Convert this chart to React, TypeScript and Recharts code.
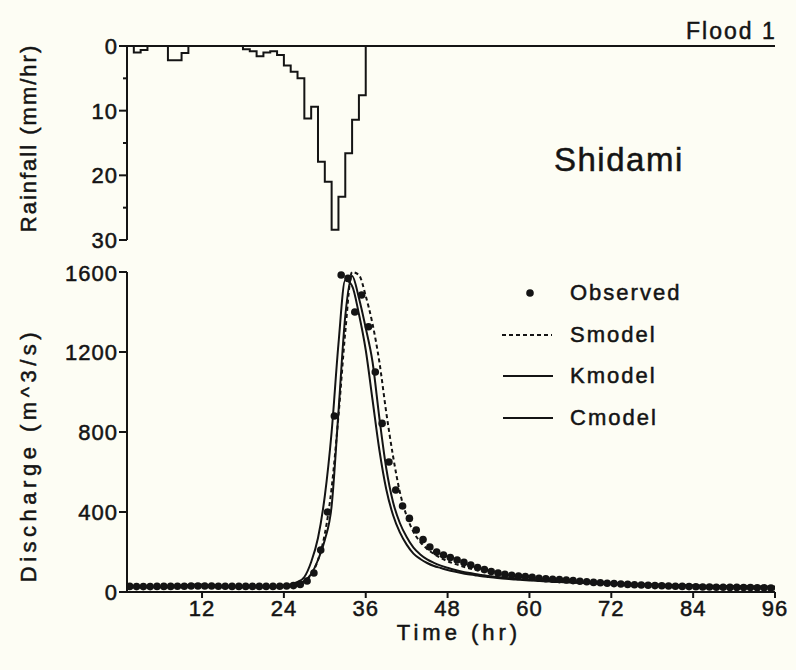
import { LineChart, ComposedChart, Line, XAxis, YAxis } from 'recharts';

const INK = '#141414';
const PAPER = '#fdfdf4';
const FONT = '"Liberation Sans", Arial, Helvetica, sans-serif';

// hourly time steps 1..96 hr
const hours = Array.from({ length: 96 }, (_, i) => i + 1);
// observations are logged a little after each full hour
const obsLag = 0.4;

// rainfall (mm/hr), value holds for [t, t+1)
const rainHours = [1, 2, 3, 4, 5, 6, 7, 8, 9, 10, 11, 12, 13, 14, 15, 16, 17, 18, 19, 20, 21, 22, 23, 24, 25, 26, 27, 28, 29, 30, 31, 32, 33, 34, 35, 36, 37];
const rainfall = [0, 1, 0.6, 0, 0, 0, 2.2, 2.2, 1.1, 0, 0, 0, 0, 0, 0, 0, 0, 0.5, 0.8, 1.6, 1, 0.8, 1.4, 3, 4, 5, 11.2, 9.4, 17.9, 21, 28.4, 23.3, 16.6, 11.4, 7.6, 0, 0];

// discharge (m^3/s), t = 1..96
const observed = [
  28, 27, 27, 27, 28, 28, 28, 29, 29,
  30, 30, 30, 30, 29, 29, 28, 28, 28, 28,
  28, 28, 28, 29, 30,
  32, 38, 55, 95, 210, 400, 880,
  1585, 1568, 1400, 1485, 1326, 1100, 843, 650, 510, 430, 368, 310,
  262, 225, 200, 185, 172, 160, 148, 135, 122, 112, 102, 95, 88,
  84, 80, 77, 73, 69, 66, 64, 62, 60, 57, 54, 51, 48, 46,
  44, 42, 40, 38, 36, 35, 34, 32, 31, 30, 29, 28, 27, 26,
  25, 25, 24, 24, 23, 23, 22, 22, 21, 21, 20, 20,
];
const smodel = [
  24, 24, 24, 24, 24, 25, 26, 27, 28,
  29, 30, 30, 29, 28, 27, 26, 26, 25, 25,
  25, 25, 26, 27, 29,
  33, 40, 55, 88, 160, 290, 520,
  880, 1300, 1600, 1585, 1480, 1340, 1150, 900, 680, 500, 380, 300,
  250, 215, 190, 170, 154, 141, 130, 120, 112, 104, 98, 92, 87,
  82, 78, 74, 71, 68, 65, 62, 60, 58, 56, 54, 52, 50, 48,
  47, 45, 44, 42, 41, 40, 39, 38, 37, 36, 35, 34, 33, 32,
  31, 30, 30, 29, 28, 28, 27, 27, 26, 26, 25, 25,
];
const kmodel = [
  25, 25, 25, 25, 25, 26, 27, 29, 32,
  35, 37, 37, 35, 32, 30, 28, 27, 26, 26,
  26, 27, 28, 30, 33,
  38, 50, 75, 150, 270, 480, 800,
  1240, 1560, 1530, 1390, 1210, 960, 710, 515, 385, 298, 237, 192,
  165, 145, 130, 120, 110, 102, 95, 89, 84, 79, 75, 71, 68,
  65, 62, 60, 58, 56, 54, 52, 50, 49, 47, 46, 45, 44, 43,
  42, 41, 40, 39, 38, 37, 36, 35, 34, 33, 33, 32, 31, 31,
  30, 30, 29, 29, 28, 28, 27, 27, 26, 26, 25, 25,
];
const cmodel = [
  25, 25, 25, 25, 25, 25, 26, 27, 29,
  31, 33, 34, 33, 31, 29, 28, 27, 26, 26,
  26, 26, 27, 28, 30,
  33, 40, 55, 90, 160, 260, 430,
  900, 1380, 1580, 1470, 1320, 1150, 870, 620, 450, 345, 275, 222,
  188, 163, 146, 132, 121, 111, 103, 96, 90, 85, 80, 76, 72,
  69, 66, 63, 61, 59, 57, 55, 53, 51, 50, 48, 47, 46, 45,
  44, 43, 42, 41, 40, 39, 38, 37, 36, 35, 34, 34, 33, 32,
  32, 31, 31, 30, 30, 29, 29, 28, 28, 27, 27, 26,
];

const timeTicks = [12, 24, 36, 48, 60, 72, 84, 96];
const rainTicks = [0, 5, 10, 15, 20, 25, 30];
const flowTicks = [0, 400, 800, 1200, 1600];

const legendItems = [
  { name: 'Observed', kind: 'dot' },
  { name: 'Smodel', kind: 'dash' },
  { name: 'Kmodel', kind: 'line' },
  { name: 'Cmodel', kind: 'line' },
];

const rainData = rainHours.map((t, i) => ({ t, rain: rainfall[i] }));
const modelData = hours.map((t, i) => ({ t, s: smodel[i], k: kmodel[i], c: cmodel[i] }));
const obsData = hours.map((t, i) => ({ t: t + obsLag, obs: observed[i] }));

const tickStyle = { fontFamily: FONT, fontSize: 22, fill: INK, letterSpacing: 1, stroke: INK, strokeWidth: 0.5 };
const axisLine = { stroke: INK, strokeWidth: 2 };
const htmlText = { fontFamily: FONT, color: INK, WebkitTextStroke: '0.5px ' + INK } as const;

// rainfall axis: long ticks with labels every 10, short ticks in between
function RainTick(props: any) {
  const { x, y, payload } = props;
  const major = payload.value % 10 === 0;
  const ax = x + 9;
  return (
    <g>
      <line x1={ax - (major ? 8 : 4)} x2={ax} y1={y} y2={y} stroke={INK} strokeWidth={2} />
      {major && (
        <text x={x} y={y} dy="0.36em" textAnchor="end" style={tickStyle}>
          {payload.value}
        </text>
      )}
    </g>
  );
}

function LegendBox() {
  return (
    <div style={{ position: 'absolute', left: 498, top: 272, fontSize: 22, letterSpacing: 2, ...htmlText }}>
      {legendItems.map((it) => (
        <div key={it.name} style={{ display: 'flex', alignItems: 'center', height: 41.7 }}>
          <svg width={66} height={20} style={{ marginRight: 6 }}>
            {it.kind === 'dot' && <circle cx={32} cy={10} r={3.8} fill={INK} />}
            {it.kind === 'dash' && <line x1={4} x2={54} y1={10} y2={10} stroke={INK} strokeWidth={2} strokeDasharray="4 3" />}
            {it.kind === 'line' && <line x1={5} x2={55} y1={10} y2={10} stroke={INK} strokeWidth={2} />}
          </svg>
          <span>{it.name}</span>
        </div>
      ))}
    </div>
  );
}

const vLabel = (text: string, cx: number, cy: number, spacing: number) => (
  <div
    style={{
      position: 'absolute',
      left: cx - 160,
      top: cy - 14,
      width: 320,
      height: 28,
      lineHeight: '28px',
      textAlign: 'center',
      transform: 'rotate(-90deg)',
      fontSize: 22,
      letterSpacing: spacing,
      ...htmlText,
    }}
  >
    {text}
  </div>
);

export default function App() {
  return (
    <div style={{ position: 'absolute', left: 0, top: 0, width: 796, height: 670, background: PAPER, overflow: 'hidden' }}>
      <div style={{ position: 'absolute', left: 0, top: 0 }}>
        <LineChart width={796} height={260} data={rainData} margin={{ top: 36, right: 21, bottom: 20, left: 67 }}>
          <XAxis
            dataKey="t"
            type="number"
            xAxisId="top"
            orientation="top"
            domain={[1, 96]}
            ticks={timeTicks}
            tick={false}
            tickSize={5}
            height={10}
            axisLine={axisLine}
            tickLine={{ stroke: INK, strokeWidth: 2 }}
          />
          <YAxis
            reversed
            domain={[0, 30]}
            ticks={rainTicks}
            width={60}
            tickSize={8}
            tickMargin={1}
            tickLine={false}
            tick={<RainTick />}
            axisLine={axisLine}
          />
          <Line
            xAxisId="top"
            dataKey="rain"
            type="stepAfter"
            stroke={INK}
            strokeWidth={2}
            dot={false}
            isAnimationActive={false}
          />
        </LineChart>
      </div>

      <div style={{ position: 'absolute', left: 0, top: 260 }}>
        <ComposedChart width={796} height={410} data={modelData} margin={{ top: 12, right: 21, bottom: 30, left: 67 }}>
          <XAxis
            dataKey="t"
            type="number"
            domain={[1, 96]}
            allowDataOverflow
            ticks={timeTicks}
            height={48}
            tickSize={6}
            tickMargin={2}
            tick={tickStyle}
            axisLine={axisLine}
            tickLine={{ stroke: INK, strokeWidth: 2 }}
            label={{ value: 'Time (hr)', position: 'insideBottom', offset: 0, dx: 8, style: { fontFamily: FONT, fontSize: 22, fill: INK, letterSpacing: 4, stroke: INK, strokeWidth: 0.5 } }}
          />
          <YAxis
            domain={[0, 1600]}
            ticks={flowTicks}
            width={60}
            tickSize={8}
            tickMargin={1}
            tick={tickStyle}
            axisLine={axisLine}
            tickLine={{ stroke: INK, strokeWidth: 2 }}
          />
          <Line dataKey="s" type="monotone" stroke={INK} strokeWidth={2} strokeDasharray="4 3" dot={false} isAnimationActive={false} />
          <Line dataKey="k" type="monotone" stroke={INK} strokeWidth={2} dot={false} isAnimationActive={false} />
          <Line dataKey="c" type="monotone" stroke={INK} strokeWidth={2} dot={false} isAnimationActive={false} />
          <Line data={obsData} dataKey="obs" stroke="none" dot={{ r: 3.8, fill: INK, stroke: 'none' }} isAnimationActive={false} />
        </ComposedChart>
      </div>

      {vLabel('Rainfall (mm/hr)', 29, 138, 2)}
      {vLabel('Discharge (m^3/s)', 29, 455, 4.5)}

      <div style={{ position: 'absolute', left: 686, top: 18, fontSize: 23, letterSpacing: 2, ...htmlText }}>Flood 1</div>
      <div style={{ position: 'absolute', left: 554, top: 141, fontSize: 33, letterSpacing: 1.5, ...htmlText }}>Shidami</div>

      <LegendBox />
    </div>
  );
}
